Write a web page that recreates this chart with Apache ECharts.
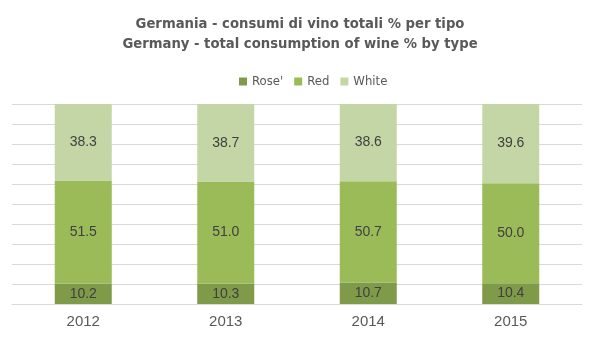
<!DOCTYPE html>
<html><head><meta charset="utf-8">
<script src="https://cdn.jsdelivr.net/npm/echarts@6/dist/echarts.min.js"></script>
<style>html,body{margin:0;padding:0;background:#fff}#c{width:600px;height:339px}</style>
</head><body><div id="c"></div>
<script>
const years = ['2012','2013','2014','2015'];
const rose = [10.2, 10.3, 10.7, 10.4];
const red = [51.5, 51.0, 50.7, 50.0];
const white = [38.3, 38.7, 38.6, 39.6];
const seriesNames = ["Rose'", 'Red', 'White'];

const chart = echarts.init(document.getElementById('c'));
const lbl = {show:true, position:'inside', color:'#404040', fontSize:14, fontFamily:'Liberation Sans', formatter: p => p.value.toFixed(1)};
function mk(name, data, color){
  return {name, type:'bar', stack:'t', data, barWidth:'40%', itemStyle:{color}, label:lbl, emphasis:{disabled:true}};
}
chart.setOption({
  animation:false,
  title:{text:'Germania - consumi di vino totali % per tipo\nGermany - total consumption of wine % by type', left:'center', top:9,
    textStyle:{fontFamily:'DejaVu Sans Condensed', fontWeight:'bold', fontSize:14.7, color:'#595959', lineHeight:20}},
  legend:{top:70, left:234, itemWidth:8, itemHeight:8, itemGap:11, icon:'rect',
    textStyle:{fontFamily:'DejaVu Sans Condensed', fontSize:13, color:'#595959'}, data:seriesNames},
  grid:{left:12, right:18, top:104, bottom:35},
  xAxis:{type:'category', data:years, axisTick:{show:false}, axisLine:{lineStyle:{color:'#d9d9d9'}},
    axisLabel:{color:'#595959', fontSize:15, fontFamily:'Liberation Sans', margin:10}},
  yAxis:{type:'value', min:0, max:100, interval:10, axisLabel:{show:false}, axisLine:{show:false}, axisTick:{show:false},
    splitLine:{lineStyle:{color:'#d9d9d9'}}},
  series:[mk(seriesNames[0], rose, '#7f9a48'), mk(seriesNames[1], red, '#9bbb59'), mk(seriesNames[2], white, '#c4d6a6')]
});
</script></body></html>
